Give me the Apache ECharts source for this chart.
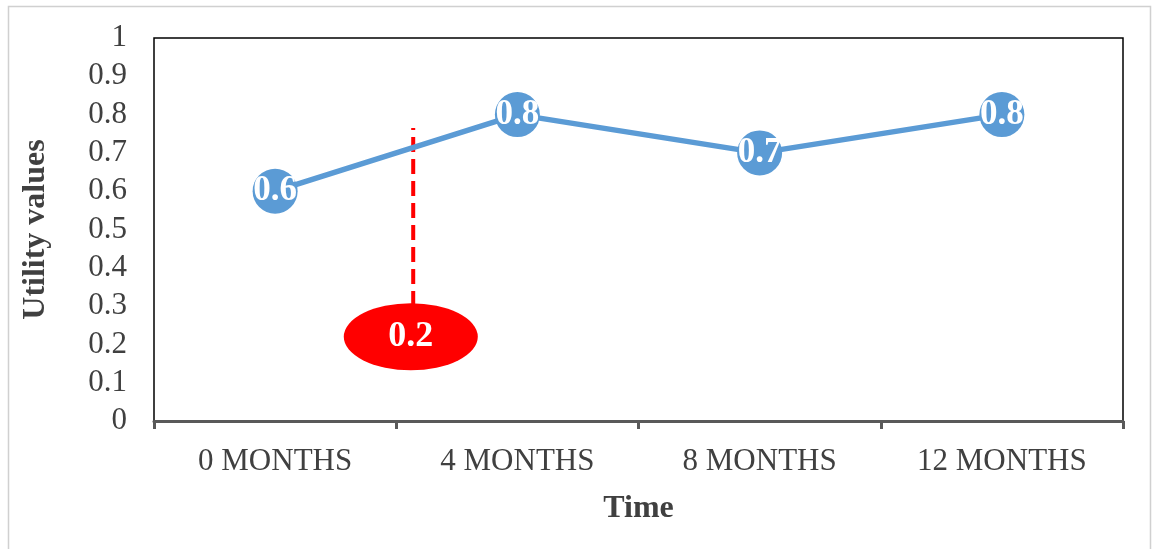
<!DOCTYPE html>
<html>
<head>
<meta charset="utf-8">
<script src="https://cdn.jsdelivr.net/npm/echarts@6/dist/echarts.min.js"></script>
<style>
  html, body { margin: 0; padding: 0; background: #fff; }
  #chart { width: 1152px; height: 549px; }
</style>
</head>
<body>
<div id="chart"></div>
<script>
// data
const categories = ['0 MONTHS', '4 MONTHS', '8 MONTHS', '12 MONTHS']
const utility = [0.6, 0.8, 0.7, 0.8]
// red annotation between 0 and 4 months (x in category units)
const annoX = 0.57
const annoLine = [0.3, 0.765]
const annoLabelY = 0.22
const annoText = '0.2'

const serif = '"Liberation Serif", "Times New Roman", serif'
const chart = echarts.init(document.getElementById('chart'))

const option = {
  animation: false,
  textStyle: { fontFamily: serif },
  graphic: [{
    type: 'rect',
    shape: { x: 8.5, y: 6.5, width: 1142, height: 560 },
    style: { fill: 'none', stroke: '#d0d0d0', lineWidth: 1.5 },
    silent: true
  }],
  grid: {
    left: 154, top: 38, right: 29, bottom: 128,
    show: true, borderColor: '#000', borderWidth: 1.5, backgroundColor: 'transparent'
  },
  xAxis: [
    {
      type: 'category',
      data: categories,
      boundaryGap: true,
      name: 'Time',
      nameLocation: 'middle',
      nameGap: 72,
      nameTextStyle: { fontFamily: serif, fontSize: 32, fontWeight: 'bold', color: '#404040' },
      axisLine: { lineStyle: { color: '#595959', width: 3 } },
      axisTick: { show: true, length: 8, lineStyle: { color: '#595959', width: 3 } },
      axisLabel: { fontFamily: serif, fontSize: 31, color: '#404040', margin: 25 },
      splitLine: { show: false }
    },
    {
      // hidden value axis over the same grid, for the annotation
      type: 'value',
      min: -0.5,
      max: 3.5,
      show: false
    }
  ],
  yAxis: {
    type: 'value',
    min: 0,
    max: 1,
    interval: 0.1,
    name: 'Utility values',
    nameLocation: 'middle',
    nameGap: 102,
    nameTextStyle: { fontFamily: serif, fontSize: 32, fontWeight: 'bold', color: '#404040' },
    axisLine: { show: false },
    axisTick: { show: false },
    splitLine: { show: false },
    axisLabel: { fontFamily: serif, fontSize: 31, color: '#404040', margin: 27 }
  },
  series: [
    {
      name: 'Utility',
      type: 'line',
      data: utility,
      symbol: 'circle',
      symbolSize: 45,
      lineStyle: { color: '#5b9bd5', width: 5.5 },
      itemStyle: { color: '#5b9bd5' },
      label: {
        show: true,
        position: 'inside',
        fontFamily: serif,
        fontSize: 35,
        fontWeight: 'bold',
        color: '#fff'
      },
      z: 3
    },
    {
      name: 'anno-line',
      type: 'line',
      xAxisIndex: 1,
      data: annoLine.map(v => [annoX, v]),
      symbol: 'none',
      lineStyle: { color: '#ff0000', width: 4, type: [15, 7] },
      z: 2
    },
    {
      name: 'anno-label',
      type: 'scatter',
      xAxisIndex: 1,
      data: [[annoX - 0.01, annoLabelY]],
      symbol: 'circle',
      symbolSize: [134, 67],
      itemStyle: { color: '#ff0000', opacity: 1 },
      label: {
        show: true,
        position: 'inside',
        formatter: annoText,
        fontFamily: serif,
        fontSize: 36,
        fontWeight: 'bold',
        color: '#fff'
      },
      z: 4
    }
  ]
}

chart.setOption(option)
window.addEventListener('resize', () => chart.resize())
</script>
</body>
</html>
